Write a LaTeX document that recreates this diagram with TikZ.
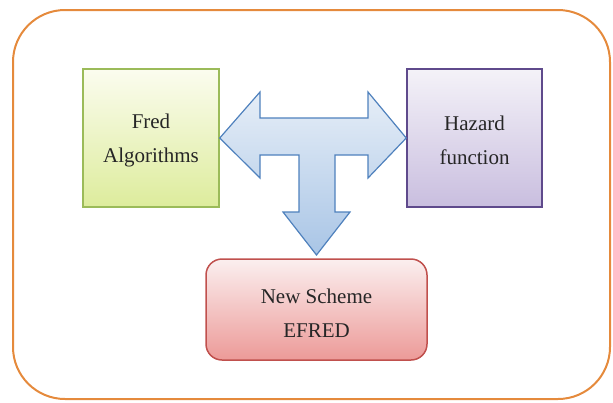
\documentclass[tikz,border=0pt]{standalone}
\usepackage{fontspec}
\setmainfont{Liberation Serif}
\newfontfamily\tnr{Liberation Serif}
\usetikzlibrary{shadings}
\definecolor{orangeb}{HTML}{E58A3C}
\definecolor{greenb}{HTML}{9BBB59}
\definecolor{greent}{HTML}{FBFCEF}
\definecolor{greenf}{HTML}{DDEC9C}
\definecolor{purpb}{HTML}{5F4A8C}
\definecolor{purpt}{HTML}{F4F2F8}
\definecolor{purpf}{HTML}{C9BEDF}
\definecolor{redb}{HTML}{C0504D}
\definecolor{redt}{HTML}{FBEFEF}
\definecolor{redf}{HTML}{EC9A98}
\definecolor{blueb}{HTML}{4F81BD}
\definecolor{bluet}{HTML}{E6EEF7}
\definecolor{bluef}{HTML}{A9C5E6}
\tikzset{
  lbl/.style={font=\tnr\fontsize{21}{34}\selectfont, align=center, text=black!85},
  gbox/.style={draw=greenb, line width=1.5pt, top color=greent, bottom color=greenf, minimum width=136pt, minimum height=138pt, inner sep=0pt},
  pbox/.style={draw=purpb, line width=1.5pt, top color=purpt, bottom color=purpf, minimum width=135pt, minimum height=138pt, inner sep=0pt},
  rbox/.style={draw=redb, line width=1.5pt, top color=redt, bottom color=redf, rounded corners=16pt, minimum width=221pt, minimum height=101pt, inner sep=0pt},
  arrowshape/.style={draw=blueb, line width=1.2pt, top color=bluet, bottom color=bluef, line join=miter}
}
\begin{document}
\begin{tikzpicture}[x=1pt, y=-1pt]
\useasboundingbox (0,0) rectangle (613,402);
\draw[orangeb, line width=2pt, rounded corners=52pt] (13,10) rectangle (610,399);
\node[gbox] (fred) at (151,138) {};
\node[pbox] (haz) at (474.5,138) {};
\node[rbox] (efred) at (316.5,309.5) {};
\node[lbl] at ([yshift=-2pt]fred.center) {Fred\\Algorithms};
\node[lbl] at ([yshift=-2pt]haz.center) {Hazard\\function};
\node[lbl] at ([yshift=-4pt]efred.center) {New Scheme\\EFRED};
\coordinate (L) at (fred.east);
\coordinate (R) at (haz.west);
\coordinate (D) at (efred.north);
\draw[arrowshape] (L) -- (260,92) -- (260,118) -- (368,118) -- (368,92) -- (R)
  -- (368,178) -- (368,155) -- (335,155) -- (335,212) -- (350,212) -- (D |- 0,255)
  -- (283,212) -- (299,212) -- (299,155) -- (260,155) -- (260,178) -- cycle;
\end{tikzpicture}
\end{document}
